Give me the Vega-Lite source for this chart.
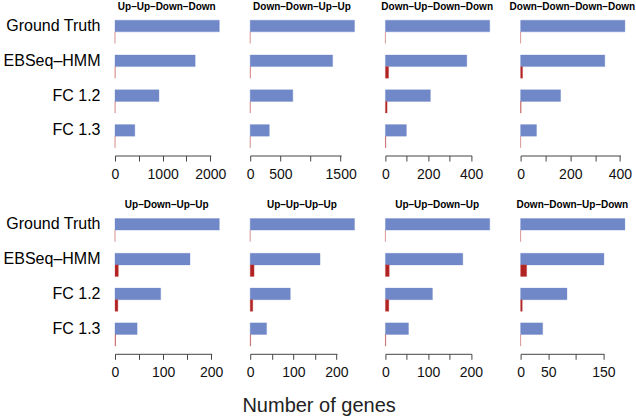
{
  "$schema": "https://vega.github.io/schema/vega-lite/v6.json",
  "description": "Number of genes called in each expression pattern: ground truth, EBSeq-HMM and fold-change cut-offs.",
  "padding": {"left": 3, "top": 2, "right": 5, "bottom": 3},
  "data": {
    "values": [
      {"pattern": "Up–Up–Down–Down", "method": "Ground Truth", "kind": "Detected", "genes": 2190},
      {"pattern": "Up–Up–Down–Down", "method": "EBSeq–HMM", "kind": "Detected", "genes": 1683},
      {"pattern": "Up–Up–Down–Down", "method": "FC 1.2", "kind": "Detected", "genes": 923},
      {"pattern": "Up–Up–Down–Down", "method": "FC 1.3", "kind": "Detected", "genes": 416},
      {"pattern": "Up–Up–Down–Down", "method": "Ground Truth", "kind": "False", "genes": 0},
      {"pattern": "Up–Up–Down–Down", "method": "EBSeq–HMM", "kind": "False", "genes": 3},
      {"pattern": "Up–Up–Down–Down", "method": "FC 1.2", "kind": "False", "genes": 2},
      {"pattern": "Up–Up–Down–Down", "method": "FC 1.3", "kind": "False", "genes": 1},

      {"pattern": "Down–Down–Up–Up", "method": "Ground Truth", "kind": "Detected", "genes": 1730},
      {"pattern": "Down–Down–Up–Up", "method": "EBSeq–HMM", "kind": "Detected", "genes": 1367},
      {"pattern": "Down–Down–Up–Up", "method": "FC 1.2", "kind": "Detected", "genes": 707},
      {"pattern": "Down–Down–Up–Up", "method": "FC 1.3", "kind": "Detected", "genes": 317},
      {"pattern": "Down–Down–Up–Up", "method": "Ground Truth", "kind": "False", "genes": 0},
      {"pattern": "Down–Down–Up–Up", "method": "EBSeq–HMM", "kind": "False", "genes": 3},
      {"pattern": "Down–Down–Up–Up", "method": "FC 1.2", "kind": "False", "genes": 2},
      {"pattern": "Down–Down–Up–Up", "method": "FC 1.3", "kind": "False", "genes": 1},

      {"pattern": "Down–Up–Down–Down", "method": "Ground Truth", "kind": "Detected", "genes": 487},
      {"pattern": "Down–Up–Down–Down", "method": "EBSeq–HMM", "kind": "Detected", "genes": 380},
      {"pattern": "Down–Up–Down–Down", "method": "FC 1.2", "kind": "Detected", "genes": 210},
      {"pattern": "Down–Up–Down–Down", "method": "FC 1.3", "kind": "Detected", "genes": 98},
      {"pattern": "Down–Up–Down–Down", "method": "Ground Truth", "kind": "False", "genes": 0},
      {"pattern": "Down–Up–Down–Down", "method": "EBSeq–HMM", "kind": "False", "genes": 15},
      {"pattern": "Down–Up–Down–Down", "method": "FC 1.2", "kind": "False", "genes": 8},
      {"pattern": "Down–Up–Down–Down", "method": "FC 1.3", "kind": "False", "genes": 2},

      {"pattern": "Down–Down–Down–Down", "method": "Ground Truth", "kind": "Detected", "genes": 420},
      {"pattern": "Down–Down–Down–Down", "method": "EBSeq–HMM", "kind": "Detected", "genes": 339},
      {"pattern": "Down–Down–Down–Down", "method": "FC 1.2", "kind": "Detected", "genes": 161},
      {"pattern": "Down–Down–Down–Down", "method": "FC 1.3", "kind": "Detected", "genes": 64},
      {"pattern": "Down–Down–Down–Down", "method": "Ground Truth", "kind": "False", "genes": 0},
      {"pattern": "Down–Down–Down–Down", "method": "EBSeq–HMM", "kind": "False", "genes": 8},
      {"pattern": "Down–Down–Down–Down", "method": "FC 1.2", "kind": "False", "genes": 2},
      {"pattern": "Down–Down–Down–Down", "method": "FC 1.3", "kind": "False", "genes": 0},

      {"pattern": "Up–Down–Up–Up", "method": "Ground Truth", "kind": "Detected", "genes": 217},
      {"pattern": "Up–Down–Up–Up", "method": "EBSeq–HMM", "kind": "Detected", "genes": 156},
      {"pattern": "Up–Down–Up–Up", "method": "FC 1.2", "kind": "Detected", "genes": 95},
      {"pattern": "Up–Down–Up–Up", "method": "FC 1.3", "kind": "Detected", "genes": 46},
      {"pattern": "Up–Down–Up–Up", "method": "Ground Truth", "kind": "False", "genes": 0},
      {"pattern": "Up–Down–Up–Up", "method": "EBSeq–HMM", "kind": "False", "genes": 7},
      {"pattern": "Up–Down–Up–Up", "method": "FC 1.2", "kind": "False", "genes": 6},
      {"pattern": "Up–Down–Up–Up", "method": "FC 1.3", "kind": "False", "genes": 1},

      {"pattern": "Up–Up–Up–Up", "method": "Ground Truth", "kind": "Detected", "genes": 242},
      {"pattern": "Up–Up–Up–Up", "method": "EBSeq–HMM", "kind": "Detected", "genes": 162},
      {"pattern": "Up–Up–Up–Up", "method": "FC 1.2", "kind": "Detected", "genes": 93},
      {"pattern": "Up–Up–Up–Up", "method": "FC 1.3", "kind": "Detected", "genes": 38},
      {"pattern": "Up–Up–Up–Up", "method": "Ground Truth", "kind": "False", "genes": 0},
      {"pattern": "Up–Up–Up–Up", "method": "EBSeq–HMM", "kind": "False", "genes": 9},
      {"pattern": "Up–Up–Up–Up", "method": "FC 1.2", "kind": "False", "genes": 6},
      {"pattern": "Up–Up–Up–Up", "method": "FC 1.3", "kind": "False", "genes": 1},

      {"pattern": "Up–Up–Down–Up", "method": "Ground Truth", "kind": "Detected", "genes": 244},
      {"pattern": "Up–Up–Down–Up", "method": "EBSeq–HMM", "kind": "Detected", "genes": 181},
      {"pattern": "Up–Up–Down–Up", "method": "FC 1.2", "kind": "Detected", "genes": 110},
      {"pattern": "Up–Up–Down–Up", "method": "FC 1.3", "kind": "Detected", "genes": 54},
      {"pattern": "Up–Up–Down–Up", "method": "Ground Truth", "kind": "False", "genes": 0},
      {"pattern": "Up–Up–Down–Up", "method": "EBSeq–HMM", "kind": "False", "genes": 9},
      {"pattern": "Up–Up–Down–Up", "method": "FC 1.2", "kind": "False", "genes": 8},
      {"pattern": "Up–Up–Down–Up", "method": "FC 1.3", "kind": "False", "genes": 1},

      {"pattern": "Down–Down–Up–Down", "method": "Ground Truth", "kind": "Detected", "genes": 189},
      {"pattern": "Down–Down–Up–Down", "method": "EBSeq–HMM", "kind": "Detected", "genes": 151},
      {"pattern": "Down–Down–Up–Down", "method": "FC 1.2", "kind": "Detected", "genes": 84},
      {"pattern": "Down–Down–Up–Down", "method": "FC 1.3", "kind": "Detected", "genes": 40},
      {"pattern": "Down–Down–Up–Down", "method": "Ground Truth", "kind": "False", "genes": 0},
      {"pattern": "Down–Down–Up–Down", "method": "EBSeq–HMM", "kind": "False", "genes": 11},
      {"pattern": "Down–Down–Up–Down", "method": "FC 1.2", "kind": "False", "genes": 3},
      {"pattern": "Down–Down–Up–Down", "method": "FC 1.3", "kind": "False", "genes": 0}
    ]
  },
  "title": {
    "text": "Number of genes",
    "orient": "bottom",
    "anchor": "middle",
    "fontSize": 20,
    "fontWeight": "normal",
    "color": "#222222",
    "offset": 17,
    "dx": 0
  },
  "columns": 4,
  "spacing": {"row": 60.3, "column": 26.2},
  "bounds": "flush",
  "concat": [
    {
      "title": "Up–Up–Down–Down",
      "width": 108.5, "height": 138,
      "transform": [{"filter": "datum.pattern == 'Up–Up–Down–Down'"}],
      "mark": {"type": "bar", "strokeWidth": 0.35},
      "encoding": {
        "y": {"field": "method", "type": "nominal", "sort": ["Ground Truth", "EBSeq–HMM", "FC 1.2", "FC 1.3"],
              "scale": {"paddingInner": 0.3333, "paddingOuter": 0.15},
              "axis": {"title": null, "domain": false, "ticks": false, "labelFontSize": 16, "labelPadding": 15, "labelOffset": -5.8, "labelColor": "#000000"}},
        "yOffset": {"field": "kind", "sort": ["Detected", "False"], "scale": {"paddingInner": 0, "paddingOuter": 0}},
        "x": {"field": "genes", "type": "quantitative", "scale": {"domain": [0, 2277.6], "nice": false},
              "axis": {"title": null, "values": [0, 500, 1000, 1500, 2000], "domainDash": [95.8, 60], "labelExpr": "datum.value % 1000 == 0 ? datum.label : ''"}},
        "color": {"field": "kind", "scale": {"domain": ["Detected", "False"], "range": ["#7088c8", "#b22222"]}, "legend": null},
        "stroke": {"field": "kind", "scale": {"domain": ["Detected", "False"], "range": ["#7088c8", "#c05050"]}, "legend": null}
      }
    },
    {
      "title": "Down–Down–Up–Up",
      "width": 108.5, "height": 138,
      "transform": [{"filter": "datum.pattern == 'Down–Down–Up–Up'"}],
      "mark": {"type": "bar", "strokeWidth": 0.35},
      "encoding": {
        "y": {"field": "method", "type": "nominal", "sort": ["Ground Truth", "EBSeq–HMM", "FC 1.2", "FC 1.3"],
              "scale": {"paddingInner": 0.3333, "paddingOuter": 0.15}, "axis": null},
        "yOffset": {"field": "kind", "sort": ["Detected", "False"], "scale": {"paddingInner": 0, "paddingOuter": 0}},
        "x": {"field": "genes", "type": "quantitative", "scale": {"domain": [0, 1799.2], "nice": false},
              "axis": {"title": null, "values": [0, 500, 1000, 1500], "domainDash": [91, 60], "labelExpr": "datum.value == 1000 ? '' : datum.label"}},
        "color": {"field": "kind", "scale": {"domain": ["Detected", "False"], "range": ["#7088c8", "#b22222"]}, "legend": null},
        "stroke": {"field": "kind", "scale": {"domain": ["Detected", "False"], "range": ["#7088c8", "#c05050"]}, "legend": null}
      }
    },
    {
      "title": "Down–Up–Down–Down",
      "width": 108.5, "height": 138,
      "transform": [{"filter": "datum.pattern == 'Down–Up–Down–Down'"}],
      "mark": {"type": "bar", "strokeWidth": 0.35},
      "encoding": {
        "y": {"field": "method", "type": "nominal", "sort": ["Ground Truth", "EBSeq–HMM", "FC 1.2", "FC 1.3"],
              "scale": {"paddingInner": 0.3333, "paddingOuter": 0.15}, "axis": null},
        "yOffset": {"field": "kind", "sort": ["Detected", "False"], "scale": {"paddingInner": 0, "paddingOuter": 0}},
        "x": {"field": "genes", "type": "quantitative", "scale": {"domain": [0, 506.48], "nice": false},
              "axis": {"title": null, "values": [0, 100, 200, 300, 400], "domainDash": [86.2, 60], "labelExpr": "datum.value % 200 == 0 ? datum.label : ''"}},
        "color": {"field": "kind", "scale": {"domain": ["Detected", "False"], "range": ["#7088c8", "#b22222"]}, "legend": null},
        "stroke": {"field": "kind", "scale": {"domain": ["Detected", "False"], "range": ["#7088c8", "#c05050"]}, "legend": null}
      }
    },
    {
      "title": "Down–Down–Down–Down",
      "width": 108.5, "height": 138,
      "transform": [{"filter": "datum.pattern == 'Down–Down–Down–Down'"}],
      "mark": {"type": "bar", "strokeWidth": 0.35},
      "encoding": {
        "y": {"field": "method", "type": "nominal", "sort": ["Ground Truth", "EBSeq–HMM", "FC 1.2", "FC 1.3"],
              "scale": {"paddingInner": 0.3333, "paddingOuter": 0.15}, "axis": null},
        "yOffset": {"field": "kind", "sort": ["Detected", "False"], "scale": {"paddingInner": 0, "paddingOuter": 0}},
        "x": {"field": "genes", "type": "quantitative", "scale": {"domain": [0, 436.8], "nice": false},
              "axis": {"title": null, "values": [0, 100, 200, 300, 400], "domainDash": [99.9, 60], "labelExpr": "datum.value % 200 == 0 ? datum.label : ''"}},
        "color": {"field": "kind", "scale": {"domain": ["Detected", "False"], "range": ["#7088c8", "#b22222"]}, "legend": null},
        "stroke": {"field": "kind", "scale": {"domain": ["Detected", "False"], "range": ["#7088c8", "#c05050"]}, "legend": null}
      }
    },
    {
      "title": "Up–Down–Up–Up",
      "width": 108.5, "height": 138,
      "transform": [{"filter": "datum.pattern == 'Up–Down–Up–Up'"}],
      "mark": {"type": "bar", "strokeWidth": 0.35},
      "encoding": {
        "y": {"field": "method", "type": "nominal", "sort": ["Ground Truth", "EBSeq–HMM", "FC 1.2", "FC 1.3"],
              "scale": {"paddingInner": 0.3333, "paddingOuter": 0.15},
              "axis": {"title": null, "domain": false, "ticks": false, "labelFontSize": 16, "labelPadding": 15, "labelOffset": -5.8, "labelColor": "#000000"}},
        "yOffset": {"field": "kind", "sort": ["Detected", "False"], "scale": {"paddingInner": 0, "paddingOuter": 0}},
        "x": {"field": "genes", "type": "quantitative", "scale": {"domain": [0, 225.68], "nice": false},
              "axis": {"title": null, "values": [0, 50, 100, 150, 200], "domainDash": [96.7, 60], "labelExpr": "datum.value % 100 == 0 ? datum.label : ''"}},
        "color": {"field": "kind", "scale": {"domain": ["Detected", "False"], "range": ["#7088c8", "#b22222"]}, "legend": null},
        "stroke": {"field": "kind", "scale": {"domain": ["Detected", "False"], "range": ["#7088c8", "#c05050"]}, "legend": null}
      }
    },
    {
      "title": "Up–Up–Up–Up",
      "width": 108.5, "height": 138,
      "transform": [{"filter": "datum.pattern == 'Up–Up–Up–Up'"}],
      "mark": {"type": "bar", "strokeWidth": 0.35},
      "encoding": {
        "y": {"field": "method", "type": "nominal", "sort": ["Ground Truth", "EBSeq–HMM", "FC 1.2", "FC 1.3"],
              "scale": {"paddingInner": 0.3333, "paddingOuter": 0.15}, "axis": null},
        "yOffset": {"field": "kind", "sort": ["Detected", "False"], "scale": {"paddingInner": 0, "paddingOuter": 0}},
        "x": {"field": "genes", "type": "quantitative", "scale": {"domain": [0, 251.68], "nice": false},
              "axis": {"title": null, "values": [0, 50, 100, 150, 200], "domainDash": [86.7, 60], "labelExpr": "datum.value % 100 == 0 ? datum.label : ''"}},
        "color": {"field": "kind", "scale": {"domain": ["Detected", "False"], "range": ["#7088c8", "#b22222"]}, "legend": null},
        "stroke": {"field": "kind", "scale": {"domain": ["Detected", "False"], "range": ["#7088c8", "#c05050"]}, "legend": null}
      }
    },
    {
      "title": "Up–Up–Down–Up",
      "width": 108.5, "height": 138,
      "transform": [{"filter": "datum.pattern == 'Up–Up–Down–Up'"}],
      "mark": {"type": "bar", "strokeWidth": 0.35},
      "encoding": {
        "y": {"field": "method", "type": "nominal", "sort": ["Ground Truth", "EBSeq–HMM", "FC 1.2", "FC 1.3"],
              "scale": {"paddingInner": 0.3333, "paddingOuter": 0.15}, "axis": null},
        "yOffset": {"field": "kind", "sort": ["Detected", "False"], "scale": {"paddingInner": 0, "paddingOuter": 0}},
        "x": {"field": "genes", "type": "quantitative", "scale": {"domain": [0, 253.76], "nice": false},
              "axis": {"title": null, "values": [0, 50, 100, 150, 200], "domainDash": [86, 60], "labelExpr": "datum.value % 100 == 0 ? datum.label : ''"}},
        "color": {"field": "kind", "scale": {"domain": ["Detected", "False"], "range": ["#7088c8", "#b22222"]}, "legend": null},
        "stroke": {"field": "kind", "scale": {"domain": ["Detected", "False"], "range": ["#7088c8", "#c05050"]}, "legend": null}
      }
    },
    {
      "title": "Down–Down–Up–Down",
      "width": 108.5, "height": 138,
      "transform": [{"filter": "datum.pattern == 'Down–Down–Up–Down'"}],
      "mark": {"type": "bar", "strokeWidth": 0.35},
      "encoding": {
        "y": {"field": "method", "type": "nominal", "sort": ["Ground Truth", "EBSeq–HMM", "FC 1.2", "FC 1.3"],
              "scale": {"paddingInner": 0.3333, "paddingOuter": 0.15}, "axis": null},
        "yOffset": {"field": "kind", "sort": ["Detected", "False"], "scale": {"paddingInner": 0, "paddingOuter": 0}},
        "x": {"field": "genes", "type": "quantitative", "scale": {"domain": [0, 196.56], "nice": false},
              "axis": {"title": null, "values": [0, 50, 100, 150], "domainDash": [83.3, 60], "labelExpr": "datum.value == 100 ? '' : datum.label"}},
        "color": {"field": "kind", "scale": {"domain": ["Detected", "False"], "range": ["#7088c8", "#b22222"]}, "legend": null},
        "stroke": {"field": "kind", "scale": {"domain": ["Detected", "False"], "range": ["#7088c8", "#c05050"]}, "legend": null}
      }
    }
  ],
  "resolve": {"scale": {"x": "independent", "y": "independent"}},
  "config": {
    "font": "Liberation Sans",
    "view": {"stroke": null},
    "title": {"font": "Liberation Sans", "fontSize": 10, "fontWeight": "bold", "color": "#000000", "offset": 3, "anchor": "middle", "dx": -2.5},
    "axis": {"grid": false, "labelFont": "Liberation Sans"},
    "axisX": {
      "offset": 2.5,
      "format": "d",
      "domainColor": "#444444",
      "tickColor": "#444444",
      "tickSize": 5.5,
      "labelFontSize": 14,
      "labelColor": "#111111",
      "labelPadding": 6,
      "labelFlush": false,
      "labelOverlap": false
    }
  }
}
